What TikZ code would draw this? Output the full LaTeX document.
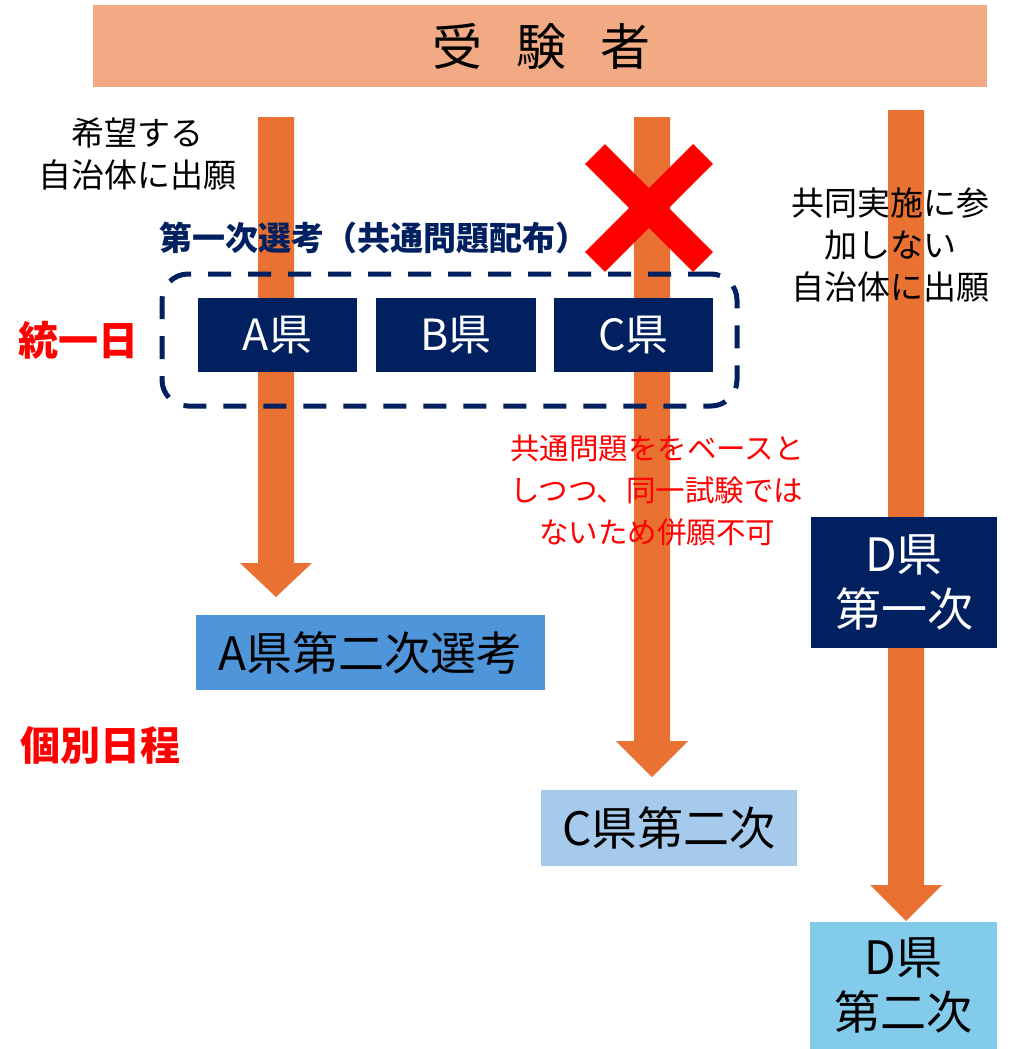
\documentclass[tikz,border=0pt]{standalone}
\usepackage{fontspec}
\setmainfont{Noto Sans CJK JP}
\usetikzlibrary{positioning}
\definecolor{orng}{HTML}{E97132}
\definecolor{navy}{HTML}{002060}
\definecolor{salmon}{HTML}{F2AA84}
\definecolor{blueA}{HTML}{4E95D9}
\definecolor{blueC}{HTML}{A6CAEC}
\definecolor{blueD}{HTML}{83CBEB}
\definecolor{redx}{HTML}{FF0000}
\newcommand\bigarrow[4]{% x center, y top, y head start, y tip
  \fill[orng] (#1-18,#2) -- (#1+18,#2) -- (#1+18,#3) -- (#1+36,#3) -- (#1,#4) -- (#1-36,#3) -- (#1-18,#3) -- cycle;}
\tikzset{
  navybox/.style={fill=navy, text=white, inner sep=0pt, font=\fontsize{43}{50}\selectfont},
  bluebox/.style={inner sep=0pt, text=black, align=center, font=\fontsize{46}{55}\selectfont},
  note/.style={align=center, inner sep=0pt, font=\fontsize{33}{42}\selectfont},
  rednote/.style={align=center, inner sep=0pt, text=redx, font=\fontsize{29.5}{42}\selectfont},
  redlabel/.style={inner sep=0pt, text=redx, font=\bfseries\fontsize{40}{44}\selectfont},
}
\begin{document}
\begin{tikzpicture}[x=1pt,y=-1pt]
\useasboundingbox (0,0) rectangle (1011,1049);
% arrows
\coordinate (a1) at (276,117);
\coordinate (a2) at (652,117);
\coordinate (a3) at (906,110);
\bigarrow{276}{117}{563}{597}
\bigarrow{652}{117}{741}{777}
\bigarrow{906}{110}{885}{921}
% top band
\node[fill=salmon, minimum width=894pt, minimum height=82pt, inner sep=0pt] (top) at (540,46) {};
\node[inner sep=0pt, font=\fontsize{50}{56}\selectfont] (toptext) at (541,46) {受\hspace{34pt}験\hspace{34pt}者};
% texts
\node[note] (wish) at (137,154) {希望する\\自治体に出願};
\node[inner sep=0pt, text=navy, font=\bfseries\fontsize{33}{38}\selectfont] (first) at (374,238) {第一次選考（共通問題配布）};
\node[note] (nojoin) at (890,245) {共同実施に参\\加しない\\自治体に出願};
\node[redlabel] (unify) at (78,340) {統一日};
\node[redlabel] (indiv) at (100,745) {個別日程};
\node[rednote] (rn) at (657,491) {共通問題ををベースと\\しつつ、同一試験では\\ないため併願不可};
% dashed group
\node[draw=navy, line width=5pt, dash pattern=on 23pt off 17pt, rounded corners=26pt,
      minimum width=575pt, minimum height=132pt, inner sep=0pt] (grp) at (449.5,340) {};
% boxes
\node[navybox, minimum width=159pt, minimum height=74pt] (A) at (277.5,335) {A県};
\node[navybox, minimum width=160pt, minimum height=74pt] (B) at (456,335) {B県};
\node[navybox, minimum width=159pt, minimum height=74pt] (C) at (633.5,335) {C県};
\node[bluebox, fill=navy, text=white, minimum width=186pt, minimum height=131pt] (D1) at (904,582.5) {D県\\第一次};
\node[bluebox, fill=blueA, minimum width=349pt, minimum height=75pt] (A2) at (370.5,652.5) {A県第二次選考};
\node[bluebox, fill=blueC, minimum width=256pt, minimum height=76pt] (C2) at (669,828) {C県第二次};
\node[bluebox, fill=blueD, minimum width=187pt, minimum height=127pt] (D2) at (903.5,985.5) {D県\\第二次};
% red cross
\coordinate (x0) at (649,208);
\draw[redx, line width=28pt] (595,154) -- (703,262);
\draw[redx, line width=28pt] (703,154) -- (595,262);
\end{tikzpicture}
\end{document}
